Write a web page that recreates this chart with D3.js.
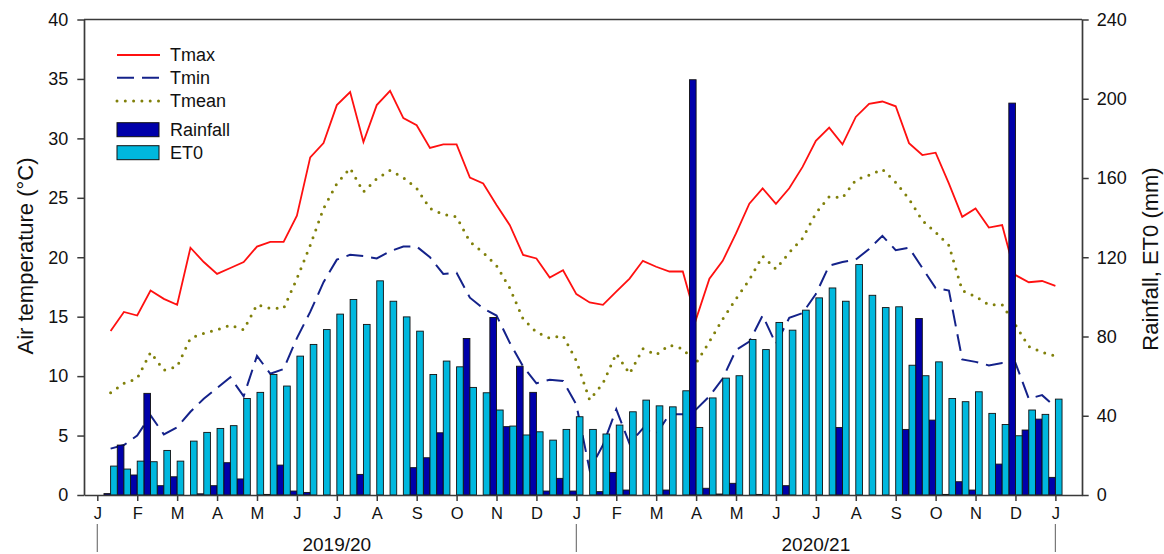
<!DOCTYPE html>
<html>
<head>
<meta charset="utf-8">
<script src="https://cdn.jsdelivr.net/npm/d3@7"></script>
<style>
  html, body { margin: 0; padding: 0; background: #fff; }
  svg { display: block; font-family: "Liberation Sans", Arial, sans-serif; }
</style>
</head>
<body>
<svg id="chart" width="1164" height="554"></svg>
<script>
// ---- data (dekadal periods, Jan 2019/20 season through Dec 2020/21 season) ----
const dekads = d3.range(1, 73);
const monthLabels = ["J","F","M","A","M","J","J","A","S","O","N","D",
                     "J","F","M","A","M","J","J","A","S","O","N","D","J"];
const seasonLabels = ["2019/20", "2020/21"];
const tempTicks = [0, 5, 10, 15, 20, 25, 30, 35, 40];
const mmTicks = [0, 40, 80, 120, 160, 200, 240];

const tmax = [13.8,15.4,15.1,17.2,16.5,16.0,20.8,19.6,18.6,19.1,19.6,20.9,
              21.3,21.3,23.5,28.4,29.6,32.8,33.9,29.7,32.8,34.0,31.7,31.1,
              29.2,29.5,29.5,26.7,26.2,24.4,22.7,20.2,19.9,18.3,18.9,16.9,
              16.2,16.0,17.1,18.2,19.7,19.2,18.8,18.8,14.8,18.2,19.7,22.0,
              24.5,25.8,24.5,25.8,27.6,29.8,30.9,29.5,31.8,32.9,33.1,32.7,
              29.6,28.6,28.8,26.2,23.4,24.1,22.5,22.7,18.5,17.9,18.0,17.6];
const tmin = [3.9,4.2,5.0,6.7,5.1,5.7,7.0,8.1,9.0,9.9,8.3,11.7,
              10.2,10.6,13.2,15.4,17.9,19.8,20.2,20.1,19.9,20.5,20.9,20.9,
              20.0,18.6,18.7,16.6,15.7,15.1,12.8,10.8,9.4,9.7,9.6,7.6,
              2.1,4.2,7.2,4.3,5.6,5.1,6.8,6.8,7.2,8.3,9.8,12.2,
              12.9,15.1,12.7,14.9,15.3,16.9,19.3,19.6,19.8,20.7,21.8,20.6,
              20.8,19.1,17.4,17.2,11.4,11.2,10.9,11.1,11.1,8.1,8.4,7.4];
const tmean = [8.6,9.4,9.8,12.0,10.5,10.8,13.2,13.6,13.9,14.3,13.9,16.0,
               15.7,15.7,18.2,21.0,24.1,26.2,27.5,25.5,26.6,27.3,26.7,25.8,
               24.1,23.6,23.4,21.3,20.4,19.3,17.4,14.8,13.7,13.2,13.4,11.3,
               8.0,9.4,11.9,10.2,12.3,11.8,12.6,12.3,11.1,12.9,14.8,16.5,
               18.1,20.1,19.0,20.4,21.6,23.7,25.1,25.0,26.5,26.9,27.4,26.3,
               24.9,23.1,22.1,21.0,17.2,16.7,16.0,16.0,14.3,12.5,12.0,11.7];
const rainfall = [0.7,25.2,10.1,51.3,4.7,9.2,0,0.6,4.7,16.3,8.1,0,
                  0.3,15.1,2.0,1.3,0,0,0,10.4,0,0,0,13.8,
                  18.8,31.4,0,79.0,0,89.6,34.5,65.0,51.8,2.0,8.4,2.0,
                  0,1.7,11.4,2.5,0,0,2.5,0,209.6,3.4,0.5,5.9,
                  0,0.3,0,4.7,0,0,0,34.1,0,0,0,0,
                  33.1,89.1,37.8,0.3,6.7,2.5,0,15.6,197.8,32.8,38.3,8.9];
const et0 = [14.6,13.1,17.1,16.8,22.5,17.1,27.2,31.6,33.6,35.0,48.7,51.8,
             60.8,55.0,70.1,76.0,83.5,91.3,98.7,86.1,108.1,97.8,89.9,82.7,
             60.8,67.6,64.7,54.3,51.6,42.9,34.8,30.3,31.9,27.7,33.1,39.5,
             33.1,30.8,35.3,42.0,47.9,45.0,44.5,52.6,34.1,49.0,59.0,60.2,
             78.5,73.4,87.1,83.2,93.3,99.5,104.5,97.8,116.3,100.8,94.6,95.0,
             65.5,60.2,67.2,48.7,47.1,52.1,41.2,35.6,29.9,42.9,40.7,48.4];

// ---- styles ----
const C = {
  tmax: "#ff1010", tmin: "#14228a", tmean: "#80800a",
  rain: "#0000aa", et0: "#00b8de", axis: "#3a3a3a", sep: "#777"
};
const FONT = '"Liberation Sans", Arial, sans-serif';

const svg = d3.select("#chart");
const L = 84, R = 1082, T = 19.5, B = 495;

const x = d3.scaleLinear().domain([-1, 74]).range([L, R]);
const yT = d3.scaleLinear().domain([0, 40]).range([B, T]);
const yR = d3.scaleLinear().domain([0, 240]).range([B, T]);
const bw = (x(1) - x(0)) / 2;

// ---- lines (drawn beneath the bars) ----
const lineGen = d3.line().x((d, i) => x(dekads[i])).y(d => yT(d));
svg.append("path").datum(tmean).attr("d", lineGen)
  .attr("fill", "none").attr("stroke", C.tmean).attr("stroke-width", 3)
  .attr("stroke-linecap", "round").attr("stroke-dasharray", "0,8.3");
svg.append("path").datum(tmin).attr("d", lineGen)
  .attr("fill", "none").attr("stroke", C.tmin).attr("stroke-width", 2)
  .attr("stroke-dasharray", "17,8");
svg.append("path").datum(tmax).attr("d", lineGen)
  .attr("fill", "none").attr("stroke", C.tmax).attr("stroke-width", 1.8);

// ---- bars ----
svg.append("g").selectAll("rect").data(dekads).join("rect")
  .attr("x", d => x(d) - bw).attr("width", bw)
  .attr("y", (d, i) => yR(rainfall[i]))
  .attr("height", (d, i) => yR(0) - yR(rainfall[i]))
  .attr("fill", C.rain).attr("stroke", "#111").attr("stroke-width", 0.9);
svg.append("g").selectAll("rect").data(dekads).join("rect")
  .attr("x", d => x(d)).attr("width", bw)
  .attr("y", (d, i) => yR(et0[i]))
  .attr("height", (d, i) => yR(0) - yR(et0[i]))
  .attr("fill", C.et0).attr("stroke", "#111").attr("stroke-width", 0.9);

// ---- axes ----
function styleAxis(g, fs) {
  g.selectAll("path.domain").attr("stroke", C.axis).attr("stroke-width", 1.7);
  g.selectAll(".tick line").attr("stroke", C.axis).attr("stroke-width", 1.5);
  g.selectAll(".tick text").attr("fill", "#111").style("font-size", fs + "px")
    .style("font-family", FONT);
}
svg.append("g").attr("transform", `translate(${L},0)`)
  .call(d3.axisLeft(yT).tickValues(tempTicks).tickSize(6.7).tickSizeOuter(0).tickPadding(9))
  .call(g => styleAxis(g, 18));
svg.append("g").attr("transform", `translate(${R},0)`)
  .call(d3.axisRight(yR).tickValues(mmTicks).tickSize(6.7).tickSizeOuter(0).tickPadding(8))
  .call(g => styleAxis(g, 18));
svg.append("g").attr("transform", `translate(0,${B})`)
  .call(d3.axisBottom(x).tickValues(d3.range(0, 73, 3))
    .tickFormat((d, i) => monthLabels[i]).tickSize(6).tickSizeOuter(0).tickPadding(6))
  .call(g => styleAxis(g, 16.5));
svg.append("line").attr("x1", L).attr("x2", R).attr("y1", T).attr("y2", T)
  .attr("stroke", C.axis).attr("stroke-width", 1.7);

// ---- season separators and labels ----
const sepIdx = [0, 36, 72];
svg.append("g").selectAll("line").data(sepIdx).join("line")
  .attr("x1", d => x(d)).attr("x2", d => x(d))
  .attr("y1", 524).attr("y2", 552)
  .attr("stroke", C.sep).attr("stroke-width", 1.2);
svg.append("g").selectAll("text").data(seasonLabels).join("text")
  .attr("x", (d, i) => (x(sepIdx[i]) + x(sepIdx[i + 1])) / 2)
  .attr("y", 551).attr("text-anchor", "middle")
  .style("font-size", "19px").attr("fill", "#111").text(d => d);

// ---- axis titles ----
svg.append("text").attr("transform", "translate(32.5,256) rotate(-90)")
  .attr("text-anchor", "middle").style("font-size", "22px").attr("fill", "#111")
  .text("Air temperature (°C)");
svg.append("text").attr("transform", "translate(1157.5,259) rotate(-90)")
  .attr("text-anchor", "middle").style("font-size", "22px").attr("fill", "#111")
  .text("Rainfall, ET0 (mm)");

// ---- legend ----
const legendLines = [
  {name: "Tmax", color: C.tmax, dash: null, w: 1.8, cap: "butt", y: 55},
  {name: "Tmin", color: C.tmin, dash: "17,8", w: 2, cap: "butt", y: 77.7},
  {name: "Tmean", color: C.tmean, dash: "0,8.3", w: 3, cap: "round", y: 101}
];
const lg = svg.append("g");
legendLines.forEach(d => {
  lg.append("line").attr("x1", 117).attr("x2", 160).attr("y1", d.y).attr("y2", d.y)
    .attr("stroke", d.color).attr("stroke-width", d.w)
    .attr("stroke-dasharray", d.dash).attr("stroke-linecap", d.cap);
  lg.append("text").attr("x", 170).attr("y", d.y).attr("dy", "0.35em")
    .style("font-size", "18px").attr("fill", "#111").text(d.name);
});
const legendBoxes = [
  {name: "Rainfall", color: C.rain, y: 129.7},
  {name: "ET0", color: C.et0, y: 152.7}
];
legendBoxes.forEach(d => {
  lg.append("rect").attr("x", 117).attr("y", d.y - 7).attr("width", 42).attr("height", 14)
    .attr("fill", d.color).attr("stroke", "#111").attr("stroke-width", 1);
  lg.append("text").attr("x", 170).attr("y", d.y).attr("dy", "0.35em")
    .style("font-size", "18px").attr("fill", "#111").text(d.name);
});
</script>
</body>
</html>
